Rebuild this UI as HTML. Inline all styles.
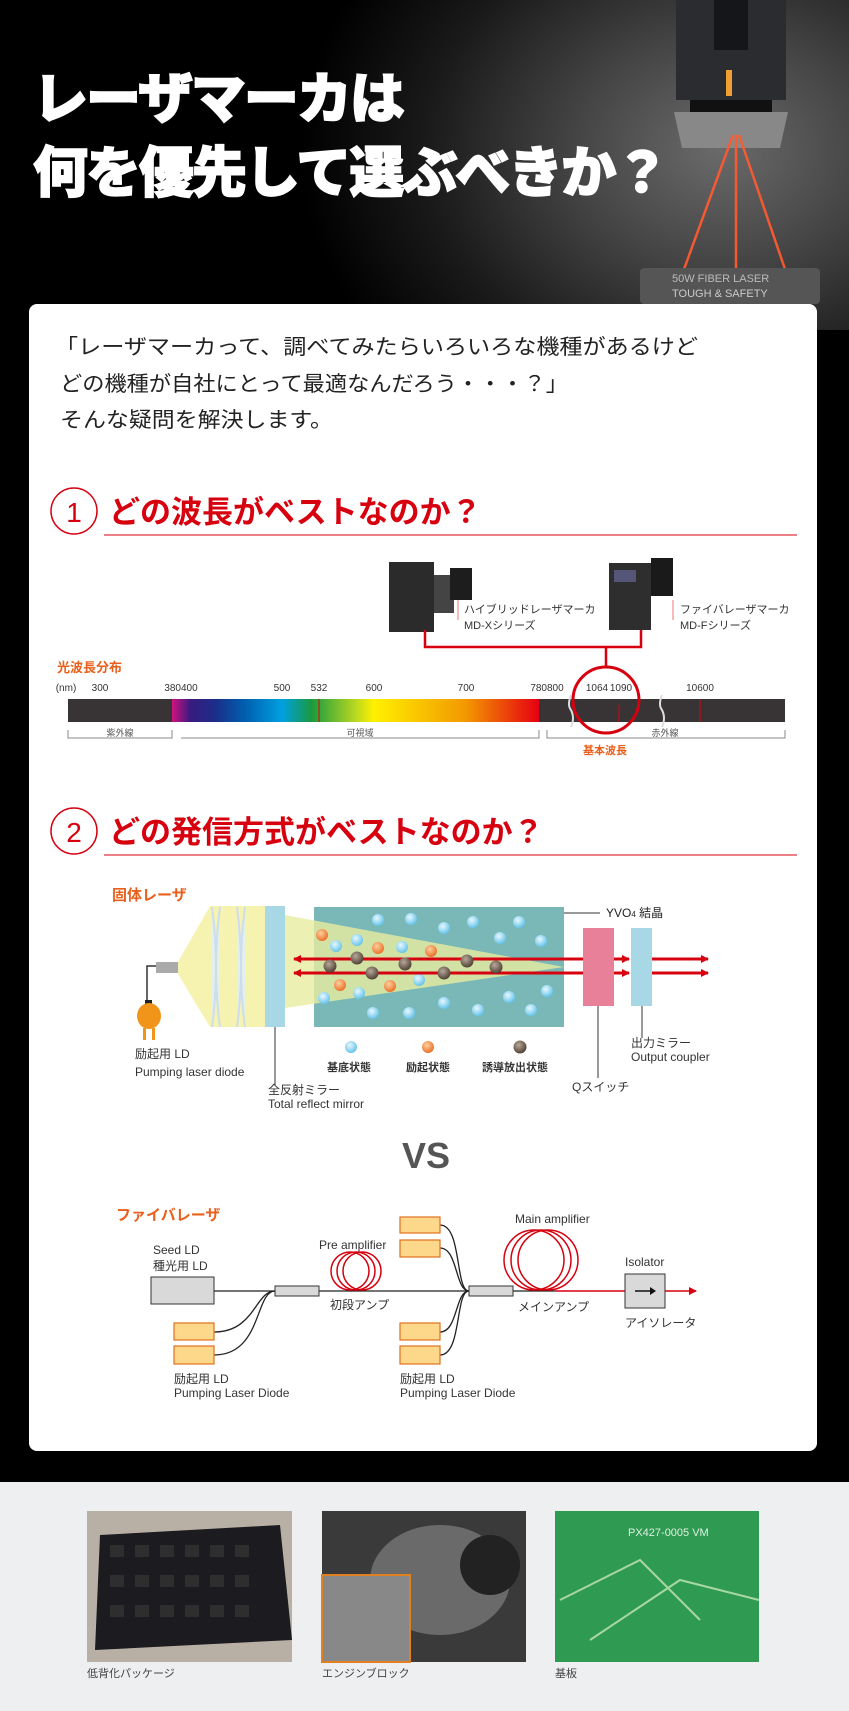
<!DOCTYPE html>
<html><head><meta charset="utf-8">
<style>
html,body{margin:0;padding:0;}
body{width:849px;height:1711px;position:relative;overflow:hidden;background:#eeeff1;font-family:"Liberation Sans","Noto Sans CJK JP",sans-serif;}
#hdr{position:absolute;left:0;top:0;width:849px;height:1482px;background:#000;}
#conc{position:absolute;left:0;top:0;width:849px;height:330px;background:radial-gradient(ellipse 420px 330px at 720px 150px,#6a6a6a 0%,#444 35%,#1a1a1a 70%,#000 100%);}
#card{position:absolute;left:29px;top:304px;width:788px;height:1147px;background:#fff;border-radius:8px;}
svg{position:absolute;left:0;top:0;}
.t{font-family:"Liberation Sans","Noto Sans CJK JP",sans-serif;}
</style></head><body>
<div id="hdr"></div>
<div id="conc"></div>
<div id="card"></div>
<svg width="849" height="1711" viewBox="0 0 849 1711">
<defs>
<linearGradient id="spec" x1="0" x2="1">
<stop offset="0" stop-color="#d0127e"/><stop offset="0.05" stop-color="#3a1a80"/><stop offset="0.12" stop-color="#1a2f8a"/>
<stop offset="0.2" stop-color="#0060b0"/><stop offset="0.3" stop-color="#00a0e0"/><stop offset="0.38" stop-color="#1a9a40"/>
<stop offset="0.5" stop-color="#b8d820"/><stop offset="0.55" stop-color="#fff000"/><stop offset="0.8" stop-color="#f39800"/><stop offset="1" stop-color="#e60012"/>
</linearGradient>
<radialGradient id="bb" cx="0.4" cy="0.35" r="0.7"><stop offset="0" stop-color="#e8f8ff"/><stop offset="1" stop-color="#5cc0e8"/></radialGradient>
<radialGradient id="ob" cx="0.4" cy="0.35" r="0.7"><stop offset="0" stop-color="#ffd0a0"/><stop offset="1" stop-color="#e86a20"/></radialGradient>
<radialGradient id="br" cx="0.4" cy="0.35" r="0.7"><stop offset="0" stop-color="#b8a898"/><stop offset="1" stop-color="#4a3a30"/></radialGradient>
<marker id="ar" markerWidth="8" markerHeight="8" refX="7" refY="4" orient="auto" markerUnits="userSpaceOnUse"><path d="M0,0 L8,4 L0,8z" fill="#d7000f"/></marker>
</defs>
<!-- header machine -->
<rect x="676" y="0" width="110" height="100" fill="#2a2c30"/>
<rect x="714" y="0" width="34" height="50" fill="#15161a"/>
<rect x="726" y="70" width="6" height="26" fill="#f0a030"/>
<rect x="690" y="100" width="82" height="12" fill="#111"/>
<polygon points="674,112 788,112 780,148 682,148" fill="#888"/>
<g stroke="#ff5a30" stroke-width="2.5" opacity="0.95">
<line x1="733" y1="135" x2="683" y2="272"/><line x1="736" y1="135" x2="736" y2="272"/><line x1="739" y1="135" x2="786" y2="272"/>
</g>
<rect x="640" y="268" width="180" height="36" fill="#555" rx="4"/>
<text x="672" y="282" font-size="11" fill="#bbb" class="t">50W FIBER LASER</text>
<text x="672" y="297" font-size="11" fill="#ccc" class="t">TOUGH &amp; SAFETY</text>
<text x="33" y="118" font-size="55" font-weight="900" fill="#fff" class="t" letter-spacing="-2" stroke="#fff" stroke-width="1.5">レーザマーカは</text>
<text x="33" y="192" font-size="55" font-weight="900" fill="#fff" class="t" letter-spacing="-2" stroke="#fff" stroke-width="1.5">何を優先して選ぶべきか？</text>
<!-- intro -->
<g font-size="21" fill="#222" class="t">
<text x="55" y="354" textLength="643" lengthAdjust="spacingAndGlyphs">「レーザマーカって、調べてみたらいろいろな機種があるけど</text>
<text x="60" y="391" textLength="508" lengthAdjust="spacingAndGlyphs">どの機種が自社にとって最適なんだろう・・・？」</text>
<text x="60" y="427" textLength="273" lengthAdjust="spacingAndGlyphs">そんな疑問を解決します。</text>
</g>
<!-- section 1 -->
<circle cx="74" cy="511" r="23" fill="#fff" stroke="#d7000f" stroke-width="1.5"/>
<text x="74" y="522" font-size="28" fill="#d7000f" text-anchor="middle" class="t">1</text>
<text x="109" y="523" font-size="31" font-weight="bold" fill="#d7000f" class="t">どの波長がベストなのか？</text>
<line x1="104" y1="535" x2="797" y2="535" stroke="#d7000f" stroke-width="1"/>
<!-- products -->
<rect x="389" y="562" width="45" height="70" fill="#2b2b2b"/>
<rect x="434" y="575" width="20" height="38" fill="#444"/>
<rect x="450" y="568" width="22" height="32" fill="#1d1d1d"/>
<rect x="609" y="563" width="42" height="67" fill="#2e2e2e"/>
<rect x="614" y="570" width="22" height="12" fill="#557"/>
<rect x="651" y="558" width="22" height="38" fill="#1a1a1a"/>
<line x1="458" y1="600" x2="458" y2="620" stroke="#e77" stroke-width="1"/>
<line x1="673" y1="600" x2="673" y2="620" stroke="#e77" stroke-width="1"/>
<g font-size="11" fill="#333" class="t">
<text x="464" y="613">ハイブリッドレーザマーカ</text><text x="464" y="629">MD-Xシリーズ</text>
<text x="680" y="613">ファイバレーザマーカ</text><text x="680" y="629">MD-Fシリーズ</text>
</g>
<path d="M425,630 V647 H641 V630 M606,647 V667" fill="none" stroke="#d7000f" stroke-width="2.5"/>
<text x="57" y="672" font-size="13" font-weight="bold" fill="#e8601c" class="t">光波長分布</text>
<g font-size="10" fill="#333" class="t" text-anchor="middle">
<text x="66" y="691">(nm)</text><text x="100" y="691">300</text><text x="181" y="691">380400</text><text x="282" y="691">500</text>
<text x="319" y="691">532</text><text x="374" y="691">600</text><text x="466" y="691">700</text><text x="547" y="691">780800</text>
<text x="597" y="691">1064</text><text x="621" y="691">1090</text><text x="700" y="691">10600</text>
</g>
<rect x="68" y="699" width="717" height="23" fill="#383435"/>
<rect x="172" y="699" width="367" height="23" fill="url(#spec)"/>
<g stroke="#d7000f" stroke-width="1"><line x1="319" y1="699" x2="319" y2="722"/><line x1="619" y1="705" x2="619" y2="722"/><line x1="700" y1="699" x2="700" y2="722"/></g>
<g stroke="#ddd" stroke-width="2" fill="none"><path d="M571,695 q-4,10 0,15 q4,8 0,17"/><path d="M662,695 q-4,10 0,15 q4,8 0,17"/></g>
<circle cx="606" cy="700" r="33" fill="none" stroke="#d7000f" stroke-width="3"/>
<g stroke="#888" fill="none" stroke-width="1"><path d="M68,730 V738 H172 V730"/><path d="M181,738 V738 H539 V730"/><path d="M547,730 V738 H785 V730"/></g>
<g font-size="9" fill="#555" class="t" text-anchor="middle"><text x="120" y="736">紫外線</text><text x="360" y="736">可視域</text><text x="665" y="736">赤外線</text></g>
<text x="605" y="754" font-size="11" font-weight="bold" fill="#e8601c" text-anchor="middle" class="t">基本波長</text>
<!-- section 2 -->
<circle cx="74" cy="831" r="23" fill="#fff" stroke="#d7000f" stroke-width="1.5"/>
<text x="74" y="842" font-size="28" fill="#d7000f" text-anchor="middle" class="t">2</text>
<text x="109" y="843" font-size="31" font-weight="bold" fill="#d7000f" class="t">どの発信方式がベストなのか？</text>
<line x1="104" y1="855" x2="797" y2="855" stroke="#d7000f" stroke-width="1"/>
<!-- solid laser -->
<text x="112" y="900" font-size="15" font-weight="bold" fill="#e8601c" class="t">固体レーザ</text>
<polygon points="178,962 210,906 265,906 265,1027 210,1027 178,974" fill="#f6f2b0"/>
<path d="M212,907 q8,60 0,120 M220,907 q-8,60 0,120" stroke="#cde" stroke-width="2" fill="#e4f0ec"/>
<path d="M237,907 q8,60 0,120 M245,907 q-8,60 0,120" stroke="#cde" stroke-width="2" fill="#e4f0ec"/>
<rect x="265" y="906" width="20" height="121" fill="#a8d8e6"/>
<rect x="314" y="907" width="250" height="120" fill="#7ab8b8"/>
<polygon points="285,915 564,967 285,1008" fill="#e8eca0" opacity="0.8"/>
<rect x="156" y="962" width="22" height="11" fill="#aaa"/>
<path d="M156,966 H147 V1002" stroke="#333" stroke-width="1.5" fill="none"/>
<rect x="145" y="1000" width="7" height="5" fill="#222"/>
<ellipse cx="149" cy="1016" rx="12" ry="13" fill="#f0951a"/>
<rect x="143" y="1028" width="3" height="12" fill="#f0951a"/><rect x="152" y="1028" width="3" height="12" fill="#f0951a"/>
<line x1="564" y1="913" x2="600" y2="913" stroke="#333"/>
<text x="606" y="917" font-size="12" fill="#222" class="t">YVO<tspan font-size="8">4</tspan> 結晶</text>
<rect x="583" y="928" width="31" height="78" fill="#e8809a"/>
<rect x="631" y="928" width="21" height="78" fill="#a8d8e6"/>
<g fill="url(#bb)">
<circle cx="378" cy="920" r="6"/><circle cx="411" cy="919" r="6"/><circle cx="444" cy="928" r="6"/><circle cx="473" cy="922" r="6"/><circle cx="519" cy="922" r="6"/><circle cx="500" cy="938" r="6"/><circle cx="541" cy="941" r="6"/><circle cx="336" cy="946" r="6"/><circle cx="357" cy="940" r="6"/><circle cx="402" cy="947" r="6"/><circle cx="419" cy="980" r="6"/><circle cx="359" cy="993" r="6"/><circle cx="324" cy="998" r="6"/><circle cx="373" cy="1013" r="6"/><circle cx="409" cy="1013" r="6"/><circle cx="444" cy="1003" r="6"/><circle cx="478" cy="1010" r="6"/><circle cx="509" cy="997" r="6"/><circle cx="547" cy="991" r="6"/><circle cx="531" cy="1010" r="6"/>
</g>
<g fill="url(#ob)"><circle cx="322" cy="935" r="6"/><circle cx="378" cy="948" r="6"/><circle cx="431" cy="951" r="6"/><circle cx="340" cy="985" r="6"/><circle cx="390" cy="986" r="6"/></g>
<g stroke="#d7000f" stroke-width="3" fill="none">
<line x1="583" y1="959" x2="294" y2="959" marker-end="url(#ar)"/><line x1="583" y1="973" x2="294" y2="973" marker-end="url(#ar)"/>
<line x1="614" y1="959" x2="629" y2="959" marker-end="url(#ar)"/><line x1="614" y1="973" x2="629" y2="973" marker-end="url(#ar)"/>
<line x1="652" y1="959" x2="708" y2="959" marker-end="url(#ar)"/><line x1="652" y1="973" x2="708" y2="973" marker-end="url(#ar)"/>
<line x1="564" y1="959" x2="583" y2="959"/><line x1="564" y1="973" x2="583" y2="973"/>
</g>
<g fill="url(#br)"><circle cx="330" cy="966" r="6.5"/><circle cx="357" cy="958" r="6.5"/><circle cx="405" cy="964" r="6.5"/><circle cx="467" cy="961" r="6.5"/><circle cx="496" cy="967" r="6.5"/><circle cx="372" cy="973" r="6.5"/><circle cx="444" cy="973" r="6.5"/></g>
<circle cx="351" cy="1047" r="6" fill="url(#bb)"/><circle cx="428" cy="1047" r="6" fill="url(#ob)"/><circle cx="520" cy="1047" r="6.5" fill="url(#br)"/>
<g font-size="11" font-weight="bold" fill="#333" class="t" text-anchor="middle"><text x="349" y="1071">基底状態</text><text x="428" y="1071">励起状態</text><text x="515" y="1071">誘導放出状態</text></g>
<g stroke="#333" stroke-width="1"><line x1="275" y1="1027" x2="275" y2="1085"/><line x1="598" y1="1006" x2="598" y2="1078"/><line x1="642" y1="1006" x2="642" y2="1038"/></g>
<g font-size="12" fill="#333" class="t">
<text x="135" y="1058">励起用 LD</text><text x="135" y="1076">Pumping laser diode</text>
<text x="268" y="1094">全反射ミラー</text><text x="268" y="1108">Total reflect mirror</text>
<text x="572" y="1091">Qスイッチ</text>
<text x="631" y="1047">出力ミラー</text><text x="631" y="1061">Output coupler</text>
</g>
<text x="426" y="1168" font-size="36" font-weight="bold" fill="#555" text-anchor="middle" class="t">VS</text>
<!-- fiber laser -->
<text x="116" y="1220" font-size="15" font-weight="bold" fill="#e8601c" class="t">ファイバレーザ</text>
<g font-size="12" fill="#333" class="t">
<text x="153" y="1254">Seed LD</text><text x="153" y="1270">種光用 LD</text>
<text x="319" y="1249">Pre amplifier</text><text x="330" y="1309">初段アンプ</text>
<text x="515" y="1223">Main amplifier</text><text x="518" y="1311">メインアンプ</text>
<text x="625" y="1266">Isolator</text><text x="625" y="1327">アイソレータ</text>
<text x="174" y="1383">励起用 LD</text><text x="174" y="1397">Pumping Laser Diode</text>
<text x="400" y="1383">励起用 LD</text><text x="400" y="1397">Pumping Laser Diode</text>
</g>
<g stroke="#222" stroke-width="1.3" fill="none">
<line x1="214" y1="1291" x2="555" y2="1291"/>
<path d="M214,1332 C255,1332 255,1291 275,1291"/><path d="M214,1355 C262,1355 255,1291 275,1291"/>
<path d="M440,1225 C462,1225 455,1291 469,1291"/><path d="M440,1248 C458,1248 455,1291 469,1291"/>
<path d="M440,1332 C458,1332 455,1291 469,1291"/><path d="M440,1355 C462,1355 455,1291 469,1291"/>
</g>
<g stroke="#d7000f" stroke-width="1.5" fill="none">
<circle cx="350" cy="1271" r="19"/><circle cx="356" cy="1271" r="19"/><circle cx="362" cy="1271" r="19"/>
<circle cx="534" cy="1260" r="30"/><circle cx="541" cy="1260" r="30"/><circle cx="548" cy="1260" r="30"/>
<line x1="555" y1="1291" x2="625" y2="1291"/><line x1="665" y1="1291" x2="696" y2="1291" marker-end="url(#ar)"/>
</g>
<rect x="151" y="1277" width="63" height="27" fill="#d9d9d9" stroke="#333"/>
<rect x="275" y="1286" width="44" height="10" fill="#d9d9d9" stroke="#333"/>
<rect x="469" y="1286" width="44" height="10" fill="#d9d9d9" stroke="#333"/>
<g fill="#fdd88a" stroke="#e07020" stroke-width="1.2">
<rect x="174" y="1323" width="40" height="17"/><rect x="174" y="1346" width="40" height="18"/>
<rect x="400" y="1217" width="40" height="16"/><rect x="400" y="1240" width="40" height="17"/>
<rect x="400" y="1323" width="40" height="17"/><rect x="400" y="1346" width="40" height="18"/>
</g>
<rect x="625" y="1274" width="40" height="34" fill="#d9d9d9" stroke="#333"/>
<path d="M635,1291 H652" stroke="#111" stroke-width="1.5"/><path d="M650,1287 L656,1291 L650,1295z" fill="#111"/>
<!-- photos -->
<rect x="87" y="1511" width="205" height="151" fill="#b8b0a4"/>
<polygon points="100,1535 280,1525 292,1640 95,1650" fill="#1c1c20"/>
<g fill="#333" opacity="0.8">
<rect x="110" y="1545" width="14" height="12"/><rect x="135" y="1545" width="14" height="12"/><rect x="160" y="1545" width="14" height="12"/><rect x="185" y="1545" width="14" height="12"/><rect x="210" y="1545" width="14" height="12"/><rect x="235" y="1545" width="14" height="12"/>
<rect x="110" y="1575" width="14" height="12"/><rect x="135" y="1575" width="14" height="12"/><rect x="160" y="1575" width="14" height="12"/><rect x="185" y="1575" width="14" height="12"/><rect x="210" y="1575" width="14" height="12"/><rect x="235" y="1575" width="14" height="12"/>
<rect x="110" y="1605" width="14" height="12"/><rect x="135" y="1605" width="14" height="12"/><rect x="160" y="1605" width="14" height="12"/><rect x="185" y="1605" width="14" height="12"/><rect x="210" y="1605" width="14" height="12"/><rect x="235" y="1605" width="14" height="12"/>
</g>
<rect x="322" y="1511" width="204" height="151" fill="#3a3a3a"/>
<ellipse cx="440" cy="1580" rx="70" ry="55" fill="#6a6a6a"/>
<circle cx="490" cy="1565" r="30" fill="#222"/>
<rect x="322" y="1575" width="88" height="87" fill="#888" stroke="#e08020" stroke-width="2"/>
<rect x="555" y="1511" width="204" height="151" fill="#2e9a52"/>
<path d="M560,1600 L640,1560 L700,1620 M590,1640 L680,1580 L759,1600" stroke="#a8d8a0" stroke-width="2" fill="none"/>
<text x="628" y="1536" font-size="11" fill="#e0f0e0" class="t">PX427-0005 VM</text>
<g font-size="11" fill="#444" class="t"><text x="87" y="1677">低背化パッケージ</text><text x="322" y="1677">エンジンブロック</text><text x="555" y="1677">基板</text></g>
</svg>
</body></html>
